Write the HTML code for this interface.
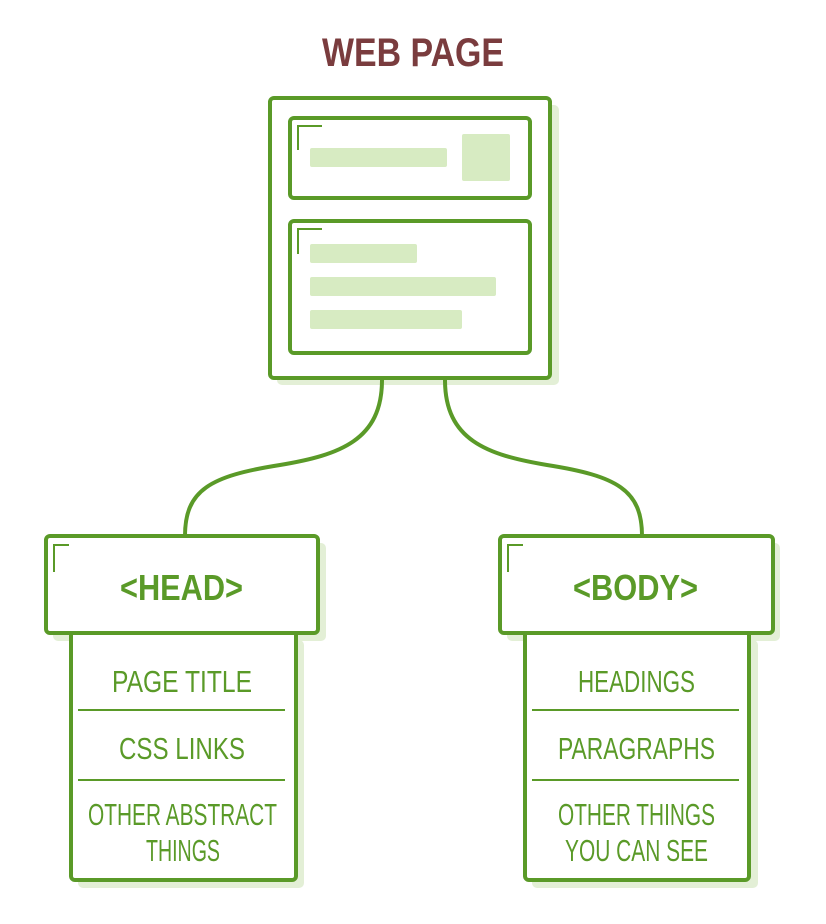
<!DOCTYPE html>
<html><head><meta charset="utf-8"><style>html,body{margin:0;padding:0;background:#fff}svg{display:block}</style></head>
<body>
<svg width="826" height="924" viewBox="0 0 826 924" xmlns="http://www.w3.org/2000/svg" font-family="Liberation Sans, sans-serif">
<g fill="#e3efd6">
<rect x="277" y="105" width="282" height="280" rx="5"/>
<rect x="297" y="125" width="242" height="80" rx="5"/>
<rect x="297" y="228" width="242" height="133" rx="5"/>
<rect x="53" y="543" width="273" height="98" rx="5"/>
<rect x="78" y="640" width="226" height="248" rx="5"/>
<rect x="507" y="543" width="273" height="98" rx="5"/>
<rect x="532" y="640" width="226" height="248" rx="5"/>
</g>
<text x="413" y="66" text-anchor="middle" font-size="40" font-weight="bold" fill="#7a3c3e" textLength="182" lengthAdjust="spacingAndGlyphs">WEB PAGE</text>
<g fill="none" stroke="#5a9a28" stroke-width="4">
<path d="M382 380 C382 440 340 455 280 465 C210 476 185 490 185 536"/>
<path d="M445 380 C445 440 487 455 547 465 C617 476 642 490 642 536"/>
</g>
<g fill="#fff" stroke="#5a9a28" stroke-width="4">
<rect x="270" y="98" width="280" height="280" rx="4"/>
<rect x="290" y="118" width="240" height="80" rx="4"/>
<rect x="290" y="221" width="240" height="132" rx="4"/>
<rect x="71" y="630" width="225" height="250" rx="4"/>
<rect x="46" y="536" width="272" height="97" rx="4"/>
<rect x="525" y="630" width="224" height="250" rx="4"/>
<rect x="500" y="536" width="273" height="97" rx="4"/>
</g>
<g fill="none" stroke="#5a9a28" stroke-width="2">
<path d="M298 150 V126 H322"/><path d="M298 254 V229 H322"/>
<path d="M54 572 V545 H69"/><path d="M508 572 V545 H523"/>
<path d="M78 710 H285 M78 780 H285 M532 710 H739 M532 780 H739"/>
</g>
<g fill="#d7ebc2">
<rect x="310" y="148" width="137" height="19" rx="2"/>
<rect x="462" y="134" width="48" height="47" rx="2"/>
<rect x="310" y="244" width="107" height="19" rx="2"/>
<rect x="310" y="277" width="186" height="19" rx="2"/>
<rect x="310" y="310" width="152" height="19" rx="2"/>
</g>
<g fill="#5a9a28" font-weight="bold" font-size="36">
<text x="120" y="600" textLength="123" lengthAdjust="spacingAndGlyphs">&lt;HEAD&gt;</text>
<text x="573" y="600" textLength="125" lengthAdjust="spacingAndGlyphs">&lt;BODY&gt;</text>
</g>
<g fill="#5a9a28" font-size="31">
<text x="112" y="692" textLength="140" lengthAdjust="spacingAndGlyphs">PAGE TITLE</text>
<text x="119" y="759" textLength="126" lengthAdjust="spacingAndGlyphs">CSS LINKS</text>
<text x="88" y="825" textLength="189" lengthAdjust="spacingAndGlyphs">OTHER ABSTRACT</text>
<text x="146" y="861" textLength="74" lengthAdjust="spacingAndGlyphs">THINGS</text>
<text x="578" y="692" textLength="117" lengthAdjust="spacingAndGlyphs">HEADINGS</text>
<text x="558" y="759" textLength="157" lengthAdjust="spacingAndGlyphs">PARAGRAPHS</text>
<text x="558" y="825" textLength="157" lengthAdjust="spacingAndGlyphs">OTHER THINGS</text>
<text x="565" y="861" textLength="143" lengthAdjust="spacingAndGlyphs">YOU CAN SEE</text>
</g>
</svg>
</body></html>
